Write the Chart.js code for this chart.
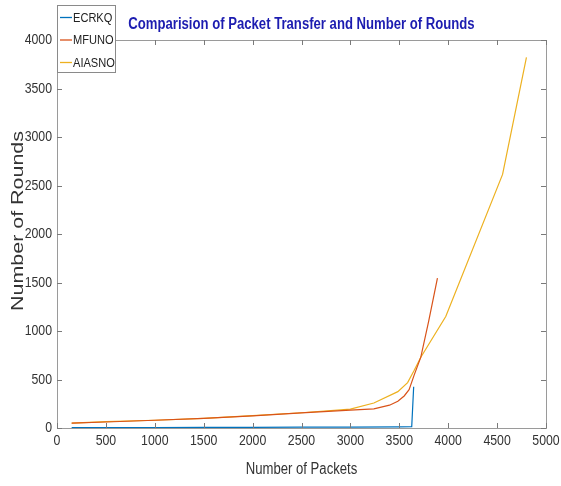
<!DOCTYPE html>
<html>
<head>
<meta charset="utf-8">
<script src="https://cdn.jsdelivr.net/npm/chart.js@4.4.1/dist/chart.umd.min.js"></script>
<style>
html,body{margin:0;padding:0;background:#fff;}
#wrap{width:561px;height:486px;position:relative;}
</style>
</head>
<body>
<div id="wrap"><canvas id="c" width="561" height="486"></canvas></div>
<script>
// ---- Data ----
const seriesNames = ["ECRKQ", "MFUNO", "AIASNO"];
const packetsECRKQ = [150, 500, 1000, 1500, 2000, 2500, 3000, 3500, 3627, 3647];
const roundsECRKQ  = [3, 4, 5, 6, 7, 8, 10, 12, 14, 425];
const packetsMFUNO = [150, 500, 1000, 1500, 2000, 2500, 3000, 3240, 3400, 3485, 3550, 3600, 3650, 3720, 3800, 3890];
const roundsMFUNO  = [50, 62, 80, 100, 125, 155, 185, 198, 235, 275, 330, 395, 540, 730, 1100, 1545];
const packetsAIASNO = [150, 500, 1000, 1500, 2000, 2500, 3000, 3240, 3485, 3585, 3650, 3720, 3975, 4556, 4800];
const roundsAIASNO  = [50, 65, 80, 100, 127, 157, 195, 258, 375, 468, 590, 730, 1150, 2614, 3820];
const xTicks = [0, 500, 1000, 1500, 2000, 2500, 3000, 3500, 4000, 4500, 5000];
const yTicks = [0, 500, 1000, 1500, 2000, 2500, 3000, 3500, 4000];
const titleText = "Comparision of Packet Transfer and Number of Rounds";
const xTitle = "Number of Packets";
const yTitle = "Number of Rounds";

const colors = ["#0072BD", "#D95319", "#EDB120"];
const xs = [packetsECRKQ, packetsMFUNO, packetsAIASNO];
const ys = [roundsECRKQ, roundsMFUNO, roundsAIASNO];

const datasets = seriesNames.map((name, i) => ({
  label: name,
  data: xs[i].map((x, j) => ({x: x, y: ys[i][j]})),
  borderColor: colors[i],
  backgroundColor: colors[i],
  borderWidth: 1.2,
  pointRadius: 0,
  showLine: true,
  tension: 0,
  fill: false
}));

const FONT = '"Liberation Sans", Arial, sans-serif';
const NX = 0.82; // condensed look of the original lettering

function txt(ctx, s, x, y, font, sx, align, base) {
  ctx.save();
  ctx.font = font;
  ctx.textAlign = align || 'left';
  ctx.textBaseline = base || 'alphabetic';
  ctx.translate(x, y);
  ctx.scale(sx, 1);
  ctx.fillText(s, 0, 0);
  ctx.restore();
}

const decor = {
  id: 'decor',
  afterDraw(chart) {
    const ctx = chart.ctx;
    const a = chart.chartArea;
    const xs_ = chart.scales.x, ys_ = chart.scales.y;
    ctx.save();
    // box
    ctx.strokeStyle = '#9a9a9a';
    ctx.lineWidth = 1;
    ctx.strokeRect(Math.round(a.left) + 0.5, Math.round(a.top) + 0.5, Math.round(a.right - a.left), Math.round(a.bottom - a.top));
    // inward ticks
    ctx.strokeStyle = '#7a7a7a';
    ctx.beginPath();
    const tl = 5;
    xTicks.forEach(v => {
      const px = Math.round(xs_.getPixelForValue(v)) + 0.5;
      ctx.moveTo(px, a.bottom); ctx.lineTo(px, a.bottom - tl);
      ctx.moveTo(px, a.top); ctx.lineTo(px, a.top + tl);
    });
    yTicks.forEach(v => {
      const py = Math.round(ys_.getPixelForValue(v)) + 0.5;
      ctx.moveTo(a.left, py); ctx.lineTo(a.left + tl, py);
      ctx.moveTo(a.right, py); ctx.lineTo(a.right - tl, py);
    });
    ctx.stroke();

    // tick labels
    ctx.fillStyle = '#333';
    xTicks.forEach(v => {
      txt(ctx, String(v), xs_.getPixelForValue(v), a.bottom + 13, '15px ' + FONT, NX, 'center', 'middle');
    });
    yTicks.forEach(v => {
      txt(ctx, String(v), a.left - 5, ys_.getPixelForValue(v), '15px ' + FONT, NX, 'right', 'middle');
    });

    // title
    ctx.fillStyle = '#1c1cb0';
    txt(ctx, titleText, (a.left + a.right) / 2, 29, 'bold 16px ' + FONT, NX, 'center');

    // x title
    ctx.fillStyle = '#333';
    txt(ctx, xTitle, (a.left + a.right) / 2, 474, '16px ' + FONT, NX, 'center');

    // y title (stretched along its length)
    ctx.save();
    ctx.translate(23, 221);
    ctx.rotate(-Math.PI / 2);
    ctx.font = '16px ' + FONT;
    const w = ctx.measureText(yTitle).width;
    ctx.scale(180 / w, 1);
    ctx.fillStyle = '#333';
    ctx.textAlign = 'center';
    ctx.fillText(yTitle, 0, 0);
    ctx.restore();

    // legend
    const lx = 57, ly = 5, lw = 58, lh = 67;
    ctx.fillStyle = '#fff';
    ctx.fillRect(lx, ly, lw, lh);
    ctx.strokeStyle = '#8a8a8a';
    ctx.lineWidth = 1;
    ctx.strokeRect(lx + 0.5, ly + 0.5, lw, lh);
    chart.data.datasets.forEach((ds, i) => {
      const yy = 17.5 + i * 22.5;
      ctx.strokeStyle = ds.borderColor;
      ctx.lineWidth = 1.3;
      ctx.beginPath();
      ctx.moveTo(lx + 3, yy); ctx.lineTo(lx + 15, yy);
      ctx.stroke();
      ctx.fillStyle = '#222';
      txt(ctx, ds.label, lx + 16, yy + 0.5, '13.5px ' + FONT, NX, 'left', 'middle');
    });
    ctx.restore();
  }
};

new Chart(document.getElementById('c'), {
  type: 'scatter',
  data: { datasets: datasets },
  options: {
    responsive: false,
    animation: false,
    layout: { padding: { left: 0, right: 15, top: 40, bottom: 0 } },
    plugins: { legend: { display: false }, title: { display: false }, tooltip: { enabled: false } },
    scales: {
      x: {
        type: 'linear', min: 0, max: 5000,
        afterBuildTicks: s => { s.ticks = xTicks.map(v => ({value: v})); },
        afterFit: s => { s.height = 58; },
        grid: { display: false, drawTicks: false },
        border: { display: false },
        ticks: { display: false }
      },
      y: {
        type: 'linear', min: 0, max: 4000,
        afterBuildTicks: s => { s.ticks = yTicks.map(v => ({value: v})); },
        afterFit: s => { s.width = 57; },
        grid: { display: false, drawTicks: false },
        border: { display: false },
        ticks: { display: false }
      }
    }
  },
  plugins: [decor]
});
</script>
</body>
</html>
